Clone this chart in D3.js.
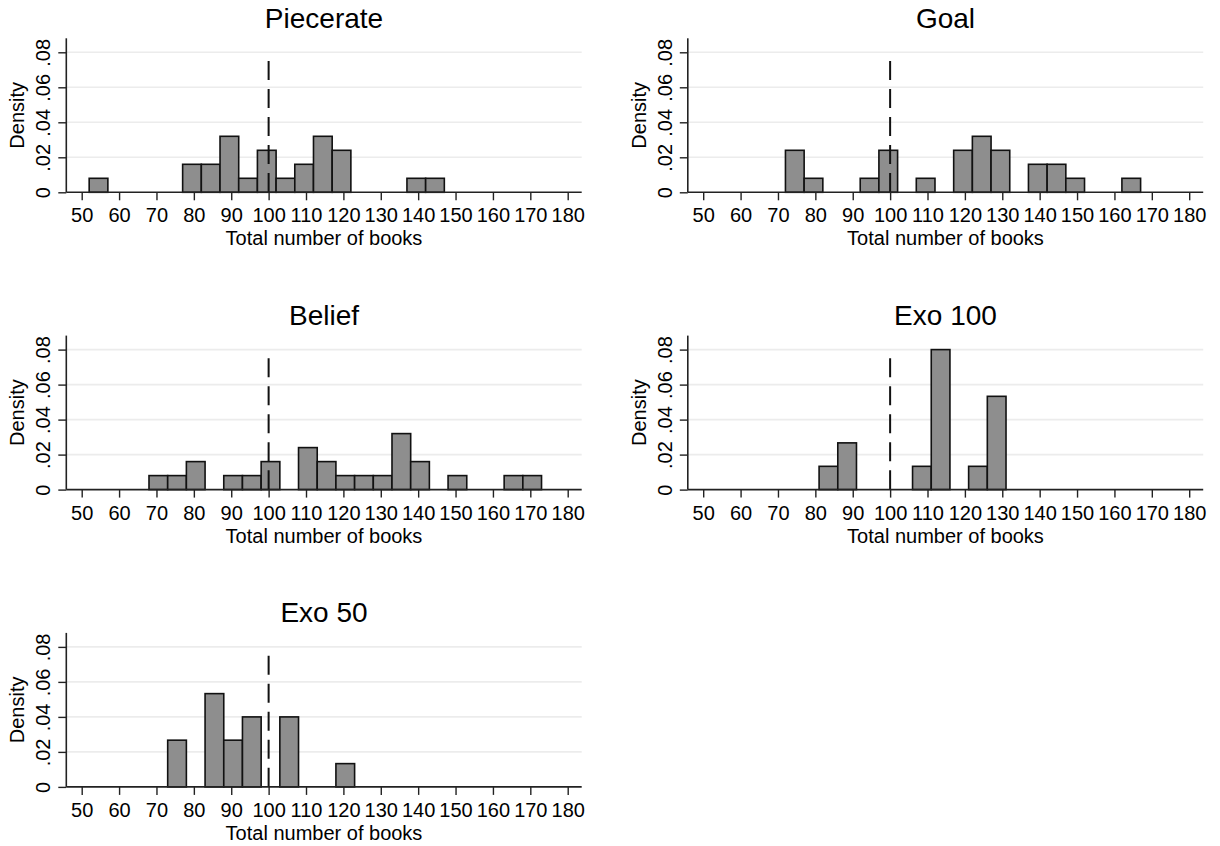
<!DOCTYPE html>
<html>
<head>
<meta charset="utf-8">
<script src="https://cdn.jsdelivr.net/npm/d3@7"></script>
<style>
  body { margin: 0; background: #fff; }
  svg { display: block; font-family: "Liberation Sans", Arial, Helvetica, sans-serif; }
</style>
</head>
<body>
<script>
// panel titles, in drawing order
var titles = ["Piecerate", "Goal", "Belief", "Exo 100", "Exo 50"];

// lower bin edges (width 5) and densities, only non-empty bins
var piecerateBins = [52, 77, 82, 87, 92, 97, 102, 107, 112, 117, 137, 142];
var piecerateDens = [.008, .016, .016, .032, .008, .024, .008, .016, .032, .024, .008, .008];

var goalBins = [72, 77, 92, 97, 107, 117, 122, 127, 137, 142, 147, 162];
var goalDens = [.024, .008, .008, .024, .008, .024, .032, .024, .016, .016, .008, .008];

var beliefBins = [68, 73, 78, 88, 93, 98, 108, 113, 118, 123, 128, 133, 138, 148, 163, 168];
var beliefDens = [.008, .008, .016, .008, .008, .016, .024, .016, .008, .008, .008, .032, .016, .008, .008, .008];

var exo100Bins = [81, 86, 106, 111, 121, 126];
var exo100Dens = [.0133, .0267, .0133, .08, .0133, .0533];

var exo50Bins = [73, 83, 88, 93, 103, 118];
var exo50Dens = [.0267, .0533, .0267, .04, .04, .0133];

var binWidth = 5;

var xTicks = [50, 60, 70, 80, 90, 100, 110, 120, 130, 140, 150, 160, 170, 180];
var yTicks = [0, .02, .04, .06, .08];
var yTickLabels = ["0", ".02", ".04", ".06", ".08"];
var gridTicks = [.02, .04, .06, .08];

var refX = 100;     // dashed reference line
var refTop = .075;

var xTitle = "Total number of books";
var yTitle = "Density";

var panels = [
  {bins: piecerateBins, dens: piecerateDens},
  {bins: goalBins, dens: goalDens},
  {bins: beliefBins, dens: beliefDens},
  {bins: exo100Bins, dens: exo100Dens},
  {bins: exo50Bins, dens: exo50Dens}
];

// layout
var colX = [66.3, 687.8];     // y axis position per column
var rowY = [38.3, 335.6, 632.9]; // top of plot area per row
var plotW = 515.4, plotH = 154;

var svg = d3.select("body").append("svg").attr("width", 1220).attr("height", 846);

var x = d3.scaleLinear().domain([50, 180]).range([15.4, 501.4]);
var y = d3.scaleLinear().domain([0, .088]).range([plotH, 0]);

panels.forEach(function (p, i) {
    var g = svg.append("g")
        .attr("transform", "translate(" + colX[i % 2] + "," + rowY[Math.floor(i / 2)] + ")");

    // grid
    g.selectAll("line.grid").data(gridTicks).enter().append("line")
        .attr("class", "grid")
        .attr("x1", 0).attr("x2", plotW)
        .attr("y1", function (d) { return y(d); })
        .attr("y2", function (d) { return y(d); })
        .attr("stroke", "#ececec").attr("stroke-width", 1.6);

    // bars
    var data = p.bins.map(function (b, j) { return {x0: b, d: p.dens[j]}; });
    g.selectAll("rect").data(data).enter().append("rect")
        .attr("x", function (d) { return x(d.x0); })
        .attr("width", function (d) { return x(d.x0 + binWidth) - x(d.x0); })
        .attr("y", function (d) { return y(d.d); })
        .attr("height", function (d) { return y(0) - y(d.d); })
        .attr("fill", "#8e8e8e")
        .attr("stroke", "#111")
        .attr("stroke-width", 1.6);

    // reference line
    g.append("line")
        .attr("x1", x(refX)).attr("x2", x(refX))
        .attr("y1", y(refTop)).attr("y2", y(0))
        .attr("stroke", "#111").attr("stroke-width", 2)
        .attr("stroke-dasharray", "19 9");

    // x axis
    var xa = g.append("g").attr("transform", "translate(0," + plotH + ")")
        .call(d3.axisBottom(x).tickValues(xTicks).tickSize(8).tickSizeOuter(0).tickPadding(4));
    xa.select(".domain").remove();
    xa.append("line").attr("x1", 0).attr("x2", plotW)
        .attr("stroke", "#222").attr("stroke-width", 1.6);
    xa.selectAll(".tick line").attr("stroke", "#222").attr("stroke-width", 1.4);
    xa.selectAll(".tick text")
        .attr("fill", "#000").attr("font-size", 20)
        .attr("y", 30).attr("dy", 0);

    // y axis
    var ya = g.append("g")
        .call(d3.axisLeft(y).tickValues(yTicks).tickSize(8).tickSizeOuter(0)
            .tickFormat(function (d, k) { return yTickLabels[k]; }));
    ya.select(".domain").remove();
    ya.append("line").attr("y1", 0).attr("y2", plotH)
        .attr("stroke", "#222").attr("stroke-width", 1.6);
    ya.selectAll(".tick line").attr("stroke", "#222").attr("stroke-width", 1.4);
    ya.selectAll(".tick text")
        .attr("fill", "#000").attr("font-size", 20)
        .attr("x", null).attr("dy", null)
        .attr("text-anchor", "middle")
        .attr("transform", "translate(-16,0) rotate(-90)");

    // axis titles
    g.append("text")
        .attr("x", plotW / 2).attr("y", plotH + 53)
        .attr("text-anchor", "middle").attr("font-size", 20)
        .text(xTitle);
    g.append("text")
        .attr("transform", "translate(-42," + plotH / 2 + ") rotate(-90)")
        .attr("text-anchor", "middle").attr("font-size", 20)
        .text(yTitle);

    // panel title
    g.append("text")
        .attr("x", plotW / 2).attr("y", plotH - 164.5)
        .attr("text-anchor", "middle").attr("font-size", 28)
        .text(titles[i]);
});
</script>
</body>
</html>
